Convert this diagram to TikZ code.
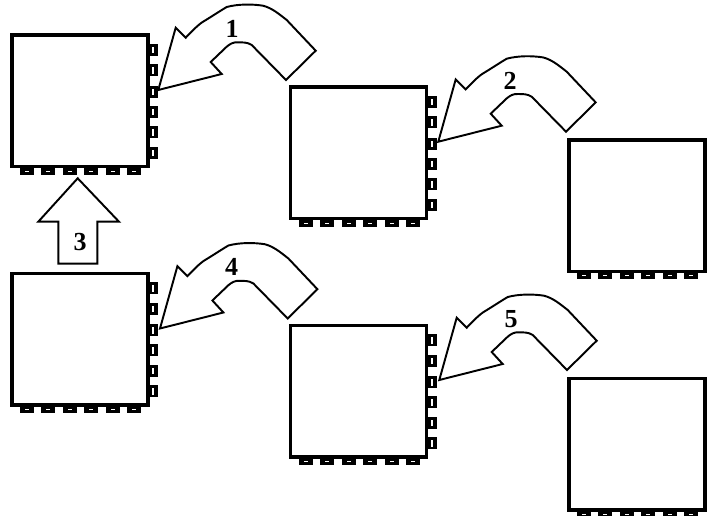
\documentclass[tikz,border=0pt]{standalone}
\usepackage{fontspec}
\setmainfont{Liberation Serif}
\tikzset{
  chipbox/.style={draw=black,line width=2.6pt,fill=white,minimum width=102pt,minimum height=98.5pt,inner sep=0pt,outer sep=0pt,rectangle},
  bigarrow/.style={draw=black,line width=1.45pt,fill=white,line join=miter},
  numlabel/.style={font=\bfseries\fontsize{19.5}{21}\selectfont,inner sep=0pt,text=black}
}
\newcommand{\botpins}[2]{%
  \begin{scope}[shift={(#1,#2)}]
    \foreach \px in {15,36,58,79,101,122}{
      \fill[black] (\px-7,133) rectangle (\px+7,140);
      \fill[white] (\px-2,135.6) rectangle (\px+2,136.2);
    }
  \end{scope}}
\newcommand{\sidepins}[2]{%
  \begin{scope}[shift={(#1,#2)}]
    \foreach \py in {15,35.5,57,77,97.5,118}{
      \fill[black] (134,\py-6) rectangle (145.5,\py+6);
      \fill[white] (140.3,\py-3.2) rectangle (141.6,\py+3.2);
    }
  \end{scope}}
\newcommand{\curvearrow}[2]{%
  \draw[bigarrow,shift={(#1,#2)}] (158.3,90) -- (175.7,27.7) -- (185.7,37.7)
    .. controls (195,28) and (200,23) .. (206.7,19.5)
    .. controls (214,15) and (220,11) .. (226.7,7)
    .. controls (238,4) and (252,4) .. (263,5.7)
    .. controls (272,8) and (279,14) .. (286.7,20)
    -- (315.7,50.7) -- (286,80) -- (251.7,45)
    .. controls (247,42) and (243,42.5) .. (238,42.3)
    .. controls (233,42) and (230,44) .. (226.7,46.7)
    -- (210.7,62) -- (221.7,74) -- cycle;}
\begin{document}
\begin{tikzpicture}[x=0.75pt,y=-0.75pt]
\useasboundingbox (0,0) rectangle (707,516);
\sidepins{12}{35}\botpins{12}{35}
\sidepins{291}{87}\botpins{291}{87}
\botpins{569}{139}
\sidepins{12}{273.5}\botpins{12}{273.5}
\sidepins{291}{325.5}\botpins{291}{325.5}
\botpins{569}{378}
\node[chipbox] (c1) at (80,100.8) {};
\node[chipbox] (c2) at (358.5,152.8) {};
\node[chipbox] (c3) at (637,205.8) {};
\node[chipbox] (c4) at (80,339.3) {};
\node[chipbox] (c5) at (358.5,391.3) {};
\node[chipbox] (c6) at (637,444.3) {};
\curvearrow{0}{0}
\curvearrow{280}{51.7}
\curvearrow{1.7}{238.5}
\curvearrow{281}{290}
\draw[bigarrow] (77.7,178.3) -- (119,221.7) -- (97.3,221.7) -- (97.3,263.7) -- (58.3,263.7) -- (58.3,221.7) -- (38.3,221.7) -- cycle;
\node[numlabel] (n1) at (232,29) {1};
\node[numlabel] (n2) at (510,81) {2};
\node[numlabel] (n3) at (80,241.7) {3};
\node[numlabel] (n4) at (231.7,266.7) {4};
\node[numlabel] (n5) at (511,319) {5};
\end{tikzpicture}
\end{document}
